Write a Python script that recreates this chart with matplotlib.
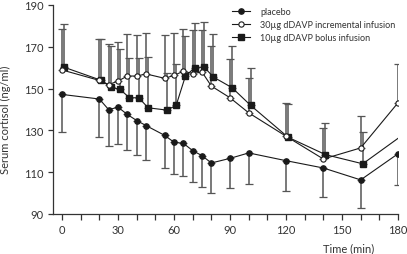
import numpy as np
import matplotlib
matplotlib.use("Agg")
import matplotlib.pyplot as plt
import matplotlib.transforms as mtransforms
from matplotlib.ticker import MultipleLocator

plt.rcParams['font.family'] = ['Lato', 'DejaVu Sans']

# time points (min)
times = [0, 20, 25, 30, 35, 40, 45, 55, 60, 65, 70, 75, 80, 90, 100, 120, 140, 160, 180]

# placebo: mean and lower end of error bar
placebo = [147.2, 145.0, 139.9, 141.1, 137.6, 134.7, 132.3, 127.6, 124.3, 123.8,
           120.3, 117.9, 114.4, 116.6, 119.2, 115.5, 112.0, 106.3, 118.8]
placebo_low = [129.3, 127.0, 122.5, 123.7, 120.8, 118.0, 116.0, 112.0, 109.1, 108.3,
               105.4, 103.1, 100.2, 102.3, 104.4, 101.2, 98.0, 92.7, 103.9]

# 30ug incremental infusion: mean and upper end of error bar
incremental = [158.9, 153.9, 151.9, 153.6, 156.0, 156.0, 157.0, 154.9, 156.3, 158.3,
               157.2, 157.9, 151.2, 145.6, 138.4, 127.2, 116.3, 121.6, 143.2]
incremental_high = [178.5, 173.7, 171.3, 172.1, 176.1, 175.6, 176.5, 175.7, 176.5, 178.5,
                    178.1, 178.0, 170.4, 164.0, 155.2, 142.9, 131.2, 136.8, 161.6]

# 10ug bolus infusion: mean and upper end of error bar (last point has no marker / bar)
bolus = [160.2, 153.9, 150.6, 149.6, 145.6, 145.6, 140.8, 139.7, 141.9, 156.0,
         160.0, 160.3, 155.5, 150.4, 141.9, 126.7, 118.4, 114.0, 126.9]
bolus_high = [180.9, 173.7, 170.4, 168.8, 164.4, 164.4, 165.0, 157.6, 161.6, 175.0,
              181.3, 181.7, 176.1, 170.4, 160.0, 142.4, 133.6, 129.1]

labels = ["placebo", "30µg dDAVP incremental infusion", "10µg dDAVP bolus infusion"]

fig = plt.figure(figsize=(4.07, 2.55), dpi=100)
ax = fig.add_axes([0.1295, 0.157, 0.8484, 0.8196])

line_col = '#1a1a1a'
bar_col = '#555555'
text_col = '#333333'

t = np.array(times)
# small horizontal shift for the bolus series so bars don't overlap
shift = mtransforms.offset_copy(ax.transData, fig=fig, x=1.5, y=0, units='points')

# placebo
p = np.array(placebo)
ax.errorbar(t, p, yerr=[p - np.array(placebo_low), np.zeros(len(p))], fmt='none',
            ecolor=bar_col, elinewidth=1.1, capsize=3, capthick=0.9, zorder=1)
ax.plot(t, p, '-o', color=line_col, lw=0.8, ms=3.8, mfc=line_col, mec=line_col,
        zorder=3, label=labels[0])

# incremental
inc = np.array(incremental)
ax.errorbar(t, inc, yerr=[np.zeros(len(inc)), np.array(incremental_high) - inc], fmt='none',
            ecolor=bar_col, elinewidth=1.1, capsize=3, capthick=0.9, zorder=1)
ax.plot(t, inc, '-o', color=line_col, lw=0.8, ms=3.8, mfc='white', mec=line_col, mew=0.8,
        zorder=4, label=labels[1])

# bolus
b = np.array(bolus)
n = len(bolus_high)
ax.errorbar(t[:n], b[:n], yerr=[np.zeros(n), np.array(bolus_high) - b[:n]], fmt='none',
            ecolor=bar_col, elinewidth=1.1, capsize=3, capthick=0.9, zorder=1,
            transform=shift)
ax.plot(t, b, '-s', color=line_col, lw=0.8, ms=3.8, mfc=line_col, mec=line_col,
        markevery=list(range(n)), zorder=3, transform=shift, label=labels[2])

ax.set_xlim(-5, 180)
ax.set_ylim(90, 190)
ax.set_xticks([0, 30, 60, 90, 120, 150, 180])
ax.xaxis.set_minor_locator(MultipleLocator(10))
ax.set_yticks([90, 110, 130, 150, 170, 190])

for s in ['top', 'right']:
    ax.spines[s].set_visible(False)
for s in ['left', 'bottom']:
    ax.spines[s].set_color(text_col)
    ax.spines[s].set_linewidth(0.9)

ax.tick_params(axis='both', which='both', colors=text_col, labelcolor=text_col,
               labelsize=8, width=0.9)
ax.tick_params(axis='x', which='both', length=4, pad=3.5)
ax.tick_params(axis='y', which='major', length=3.5, pad=3)

ax.set_xlabel("Time (min)", fontsize=8, color=text_col)
ax.xaxis.set_label_coords(0.858, -0.135)
fig.text(5 / 407, 1 - 120 / 255, "Serum cortisol (ng/ml)", rotation=90, ha='center',
         va='center', fontsize=8, color=text_col)

ax.legend(loc='upper left', bbox_to_anchor=(232 / 407, 1 - 8 / 255),
          bbox_transform=fig.transFigure, frameon=False, fontsize=6.5, borderpad=0,
          borderaxespad=0, handlelength=2.0, handletextpad=1.1, labelspacing=0.45,
          labelcolor=text_col)

fig.savefig("out.png", dpi=100)
